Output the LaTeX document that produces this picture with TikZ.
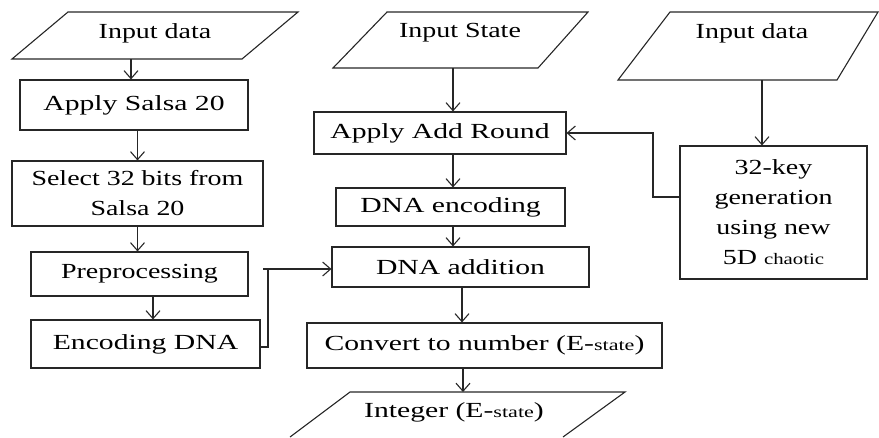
\documentclass[tikz,border=0pt]{standalone}
\usepackage{fontspec}
\setmainfont[FakeStretch=1.3]{Liberation Serif}
\newfontfamily\widefont[FakeStretch=1.38]{Liberation Serif}
\usetikzlibrary{arrows.meta}

\begin{document}
\begin{tikzpicture}[x=1pt,y=-1pt,
  line width=1.1pt, draw=black!85, line join=miter,
  box/.style={draw, rectangle, inner sep=0pt, align=center,
    font=\fontsize{21.5}{30}\selectfont},
  wbox/.style={box, font=\widefont\fontsize{21.5}{30}\selectfont},
  lbl/.style={inner sep=0pt, align=center, font=\fontsize{21.5}{30}\selectfont},
  arr/.style={-{Straight Barb[length=8pt,width=14pt,line width=1.1pt]}}
]
\useasboundingbox (0,0) rectangle (879,437);
\newcommand{\smalltext}[1]{{\fontsize{16}{20}\selectfont #1}}

% ---------- left column ----------
\draw (68,12) -- (298,12) -- (242,59) -- (12,59) -- cycle;
\node[lbl] (in1) at (155,33) {Input data};
\coordinate (in1b) at (131,59);

\node[wbox, minimum width=228pt, minimum height=50pt] (salsa) at (134,105) {Apply Salsa 20};
\node[box, minimum width=251pt, minimum height=65pt] (select) at (137.5,193.5) {Select 32 bits from\\Salsa 20};
\node[box, minimum width=217pt, minimum height=44pt] (prep) at (139.5,274) {Preprocessing};
\node[wbox, minimum width=229pt, minimum height=48pt] (enc) at (145.5,344) {Encoding DNA};

\draw[arr] (in1b) -- (in1b |- salsa.north);
\draw[arr] (salsa.south -| select.north) -- (select.north);
\draw[arr] (select.south) -- (select.south |- prep.north);
\draw[arr] ([xshift=13.5pt]prep.south) -- ([xshift=13.5pt]prep.south |- enc.north);

% ---------- middle column ----------
\draw (387,12) -- (588,12) -- (538,68) -- (333,68) -- cycle;
\node[lbl] (in2) at (460,33) {Input State};
\coordinate (in2b) at (453,68);

\node[wbox, minimum width=252pt, minimum height=42pt] (round) at (440,133) {Apply Add Round};
\node[wbox, minimum width=229pt, minimum height=38pt] (dnaenc) at (450.5,207) {DNA encoding};
\node[wbox, minimum width=257pt, minimum height=40pt] (dnaadd) at (460.5,267) {DNA addition};
\node[wbox, minimum width=355pt, minimum height=45pt] (conv) at (484.5,345.5) {Convert to number (E-\smalltext{state})};

\draw (290,437) -- (350,392) -- (625,392) -- (563,437);
\node[lbl, font=\widefont\fontsize{21.5}{30}\selectfont] (out) at (454,412) {Integer (E-\smalltext{state})};
\coordinate (outt) at (463,392);

\draw[arr] (in2b) -- (in2b |- round.north);
\draw[arr] ([xshift=13pt]round.south) -- ([xshift=13pt]round.south |- dnaenc.north);
\draw[arr] ([xshift=2.5pt]dnaenc.south) -- ([xshift=2.5pt]dnaenc.south |- dnaadd.north);
\draw[arr] ([xshift=1.5pt]dnaadd.south) -- ([xshift=1.5pt]dnaadd.south |- conv.north);
\draw[arr] (outt |- conv.south) -- (outt);

% ---------- right column ----------
\draw (670,12) -- (878,12) -- (837,80) -- (618,80) -- cycle;
\node[lbl] (in3) at (752,33) {Input data};
\coordinate (in3b) at (762,80);

\node[box, minimum width=187pt, minimum height=133pt] (key) at (773.5,212.5)
  {32-key\\generation\\using new\\5D \smalltext{chaotic}};

\draw[arr] (in3b) -- (in3b |- key.north);

% ---------- cross connectors ----------
\coordinate (kbend) at (653,197);
\draw[arr] (kbend -| key.west) -- (kbend) |- (round.east);

\coordinate (ebend) at (268,269);
\coordinate (estub) at (263,269);
\draw ([yshift=-3pt]enc.east) -| (ebend);
\draw[arr] (estub) -- (estub -| dnaadd.west);
\end{tikzpicture}
\end{document}
